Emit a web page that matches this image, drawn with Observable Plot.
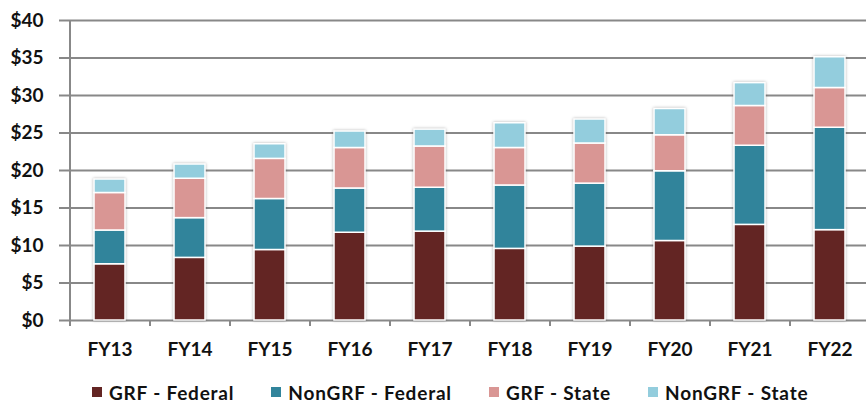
<!DOCTYPE html>
<html>
<head>
<meta charset="utf-8">
<script src="https://cdn.jsdelivr.net/npm/d3@7"></script>
<script src="https://cdn.jsdelivr.net/npm/@observablehq/plot@0.6"></script>
<style>
  html, body { margin: 0; padding: 0; background: #fff; }
  body { width: 866px; height: 405px; overflow: hidden; font-family: Lato, "Open Sans", sans-serif; }
  #legend { display: flex; align-items: center; height: 20px; padding-top: 12px; padding-left: 92px; font-weight: bold; font-size: 19px; letter-spacing: 0.8px; color: #111; }
  #legend .item { display: flex; align-items: center; margin-right: 37px; }
  #legend .sw { width: 10px; height: 10px; margin-right: 7px; }
  g[aria-label="bar"] { filter: drop-shadow(0 0 1.5px rgba(0,0,0,0.3)); }
</style>
</head>
<body>
<div id="chart"></div>
<div id="legend"></div>
<script>
const categories = ["FY13","FY14","FY15","FY16","FY17","FY18","FY19","FY20","FY21","FY22"];
const seriesNames = ["GRF - Federal","NonGRF - Federal","GRF - State","NonGRF - State"];
const grfFederal    = [7.5, 8.35, 9.4, 11.7, 11.85, 9.55, 9.85, 10.6, 12.75, 12.05];
const nonGrfFederal = [4.5, 5.3, 6.8, 5.9, 5.85, 8.45, 8.4, 9.3, 10.55, 13.65];
const grfState      = [5.0, 5.25, 5.35, 5.4, 5.5, 5.0, 5.35, 4.8, 5.3, 5.3];
const nonGrfState   = [1.8, 1.9, 1.95, 2.2, 2.25, 3.3, 3.2, 3.5, 3.05, 4.1];
const seriesColors  = ["#632523", "#31849B", "#D99694", "#93CDDD"];
const yTicks = [0, 5, 10, 15, 20, 25, 30, 35, 40];

const seriesValues = [grfFederal, nonGrfFederal, grfState, nonGrfState];
const data = categories.flatMap((c, i) =>
  seriesNames.map((s, j) => ({ year: c, series: s, value: seriesValues[j][i] })));

const gridColor = "#888888";

function make(step) {
  const marks = [
    Plot.ruleY(yTicks, { stroke: gridColor, strokeWidth: 2 }),
    Plot.axisY({ ticks: yTicks, tickSize: 8, tickPadding: 16, tickFormat: d => "$" + d,
      stroke: gridColor, strokeWidth: 2, fill: "#111", fontSize: 19, fontWeight: "bold" }),
    Plot.axisX({ tickSize: 0, tickPadding: 22, fill: "#111", fontSize: 19, fontWeight: "bold" }),
    Plot.barY(data, { x: "year", y: "value", fill: "series", stroke: "white", strokeWidth: 1.5,
      order: seriesNames })
  ];
  if (step) {
    marks.push(
      Plot.ruleX(categories, { x: d => d, dx: -step / 2, y1: 0, y2: 0, insetBottom: -6,
        stroke: gridColor, strokeWidth: 2 }),
      Plot.ruleX([categories[0]], { x: d => d, dx: -step / 2, y1: 40, y2: 0, insetBottom: -6,
        stroke: gridColor, strokeWidth: 2 })
    );
  }
  return Plot.plot({
    width: 866, height: 370,
    marginTop: 20, marginBottom: 50, marginLeft: 67, marginRight: -5,
    style: { fontFamily: "Lato, 'Open Sans', sans-serif", background: "#fff" },
    x: { domain: categories, paddingInner: 0.615, paddingOuter: 0.3075, label: null },
    y: { domain: [0, 40], label: null },
    color: { domain: seriesNames, range: seriesColors },
    marks
  });
}

const probe = make(0);
const step = probe.scale("x").step;
const chart = make(step);
document.getElementById("chart").appendChild(chart);

const legend = document.getElementById("legend");
seriesNames.forEach((s, i) => {
  const item = document.createElement("div");
  item.className = "item";
  const sw = document.createElement("span");
  sw.className = "sw";
  sw.style.background = seriesColors[i];
  const t = document.createElement("span");
  t.textContent = s;
  item.appendChild(sw); item.appendChild(t);
  legend.appendChild(item);
});
</script>
</body>
</html>
